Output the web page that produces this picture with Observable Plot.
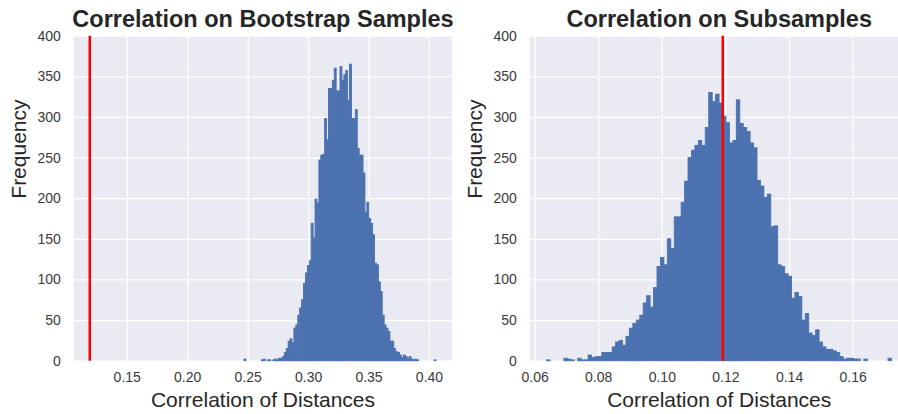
<!DOCTYPE html>
<html>
<head>
<meta charset="utf-8">
<script src="https://cdn.jsdelivr.net/npm/d3@7"></script>
<script src="https://cdn.jsdelivr.net/npm/@observablehq/plot@0.6"></script>
<style>
  html, body { margin: 0; padding: 0; background: #fff; }
  #wrap { position: relative; width: 898px; height: 414px; overflow: hidden; }
  #wrap > svg { position: absolute; top: 0; }
</style>
</head>
<body>
<div id="wrap"></div>
<script>
// ---- data ----
const leftTitle = "Correlation on Bootstrap Samples";
const rightTitle = "Correlation on Subsamples";
const xLabel = "Correlation of Distances";
const yLabel = "Frequency";

// 100 bins, bootstrap correlations
const leftBinRange = [0.2470, 0.4058];
const leftCounts = [
  2, 0, 0, 0, 0, 0, 0, 0, 0, 1,
  2, 0, 1, 1, 0, 1, 2, 1, 3, 3,
  5, 10, 15, 24, 27, 22, 40, 44, 56, 65,
  75, 95, 108, 117, 123, 169, 151, 199, 194, 247,
  253, 254, 298, 272, 335, 335, 345, 360, 332, 332,
  362, 345, 352, 357, 320, 365, 298, 298, 309, 261,
  253, 253, 231, 183, 195, 175, 169, 155, 120, 118,
  97, 85, 56, 44, 40, 36, 24, 24, 15, 11,
  10, 7, 4, 7, 5, 3, 5, 2, 1, 2,
  1, 0, 0, 0, 0, 0, 0, 0, 0, 1
];

// 100 bins, subsample correlations
const rightBinRange = [0.0638, 0.1722];
const rightCounts = [
  1, 0, 0, 0, 0, 3, 2, 1, 0, 3,
  1, 1, 7, 4, 5, 5, 10, 10, 10, 17,
  23, 25, 19, 30, 40, 46, 50, 56, 71, 80,
  66, 90, 116, 127, 118, 150, 138, 177, 177, 195,
  221, 250, 259, 265, 271, 265, 287, 330, 319, 328,
  317, 301, 293, 268, 271, 321, 292, 287, 282, 268,
  262, 222, 215, 201, 205, 165, 166, 118, 116, 107,
  104, 77, 84, 79, 50, 58, 34, 31, 38, 23,
  17, 14, 14, 12, 10, 5, 2, 3, 3, 2,
  2, 0, 2, 0, 0, 0, 0, 0, 0, 3
];

const observedValue = 0.119;

const leftXTicks = [0.15, 0.20, 0.25, 0.30, 0.35, 0.40];
const rightXTicks = [0.06, 0.08, 0.10, 0.12, 0.14, 0.16];
const yTicks = [0, 50, 100, 150, 200, 250, 300, 350, 400];

const leftXDomain = [0.1058, 0.4188];
const rightXDomain = [0.05834, 0.17743];

// ---- build ----
function makeBins(counts, range) {
  const w = (range[1] - range[0]) / counts.length;
  return counts.map((c, i) => ({x1: range[0] + i * w, x2: range[0] + (i + 1) * w, y: c}));
}

const FONT = "'Liberation Sans', Arial, Helvetica, sans-serif";
const BLUE = "#4c72b0";

function panel({title, counts, range, domain, xticks, left, width, marginLeft, marginRight}) {
  const bins = makeBins(counts, range).filter(d => d.y > 0);
  const svg = Plot.plot({
    width, height: 414,
    marginLeft, marginRight, marginTop: 35.7, marginBottom: 53.3,
    style: {fontFamily: FONT, background: "transparent", color: "#262626", overflow: "visible"},
    x: {domain, ticks: xticks},
    y: {domain: [0, 400], ticks: yTicks},
    marks: [
      Plot.frame({fill: "#eaeaf2", stroke: "none"}),
      Plot.gridX(xticks, {stroke: "#ffffff", strokeOpacity: 1, strokeWidth: 1.3}),
      Plot.gridY(yTicks, {stroke: "#ffffff", strokeOpacity: 1, strokeWidth: 1.3}),
      Plot.rectY(bins, {x1: "x1", x2: "x2", y1: 0, y2: "y", fill: BLUE, stroke: BLUE, strokeWidth: 0.9, strokeLinejoin: "miter"}),
      Plot.ruleX([observedValue], {stroke: "#ff0000", strokeWidth: 2.5}),
      Plot.axisX(xticks, {tickSize: 0, tickPadding: 11, fontSize: 14, tickFormat: d3.format(".2f"), label: null, fill: "#3a3a3a"}),
      Plot.axisY(yTicks, {tickSize: 0, tickPadding: 13, fontSize: 14, label: null, fill: "#3a3a3a"}),
      Plot.text([title], {frameAnchor: "top", dy: -17, lineAnchor: "middle", fontSize: 23.5, fontWeight: "bold", fill: "#262626"}),
      Plot.text([xLabel], {frameAnchor: "bottom", dy: 39, lineAnchor: "middle", fontSize: 21, fill: "#262626"}),
      Plot.text([yLabel], {frameAnchor: "left", dx: -55, rotate: -90, lineAnchor: "middle", fontSize: 21, fill: "#262626"})
    ]
  });
  svg.style.left = left + "px";
  return svg;
}

const wrap = document.getElementById("wrap");
wrap.appendChild(panel({
  title: leftTitle, counts: leftCounts, range: leftBinRange, domain: leftXDomain,
  xticks: leftXTicks, left: 0, width: 460, marginLeft: 73.3, marginRight: 8.3
}));
wrap.appendChild(panel({
  title: rightTitle, counts: rightCounts, range: rightBinRange, domain: rightXDomain,
  xticks: rightXTicks, left: 460, width: 460, marginLeft: 69.3, marginRight: 11.9
}));
</script>
</body>
</html>
